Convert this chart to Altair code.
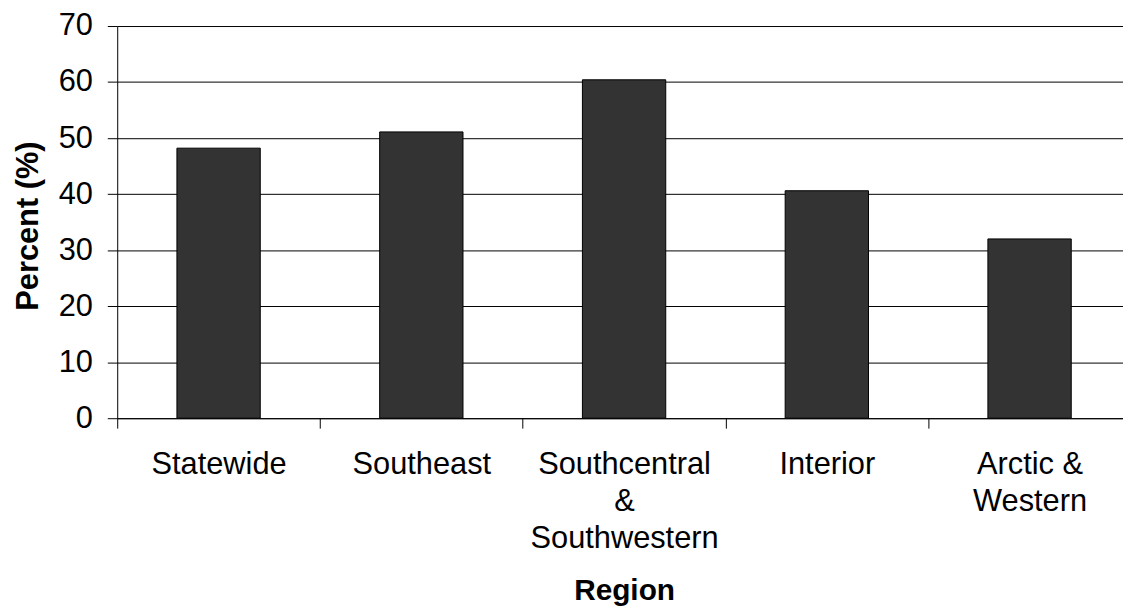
import altair as alt
import pandas as pd

regions = ["Statewide", "Southeast", "Southcentral\n&\nSouthwestern", "Interior", "Arctic &\nWestern"]
percents = [48.2, 51.1, 60.4, 40.6, 32.0]
y_ticks = [0, 10, 20, 30, 40, 50, 60, 70]

df = pd.DataFrame({"Region": regions, "Percent": percents})

FONT = "Liberation Sans"

chart = alt.Chart(df).mark_bar(
    color="#333333", stroke="#000000", strokeWidth=1,
    width=alt.RelativeBandSize(0.411),
).encode(
    x=alt.X(
        "Region:N",
        sort=None,
        scale=alt.Scale(range=[0, 1021], paddingInner=0, paddingOuter=0),
        axis=alt.Axis(
            title="Region",
            labelAngle=0,
            labelExpr="isValid(datum.value) ? split(datum.value, '\\n') : ''",
            labelLineHeight=37,
            labelFontSize=31,
            labelFont=FONT,
            labelColor="#000000",
            labelPadding=22,
            labelLimit=0,
            labelOverlap=False,
            tickBand="extent",
            tickSize=10,
            tickColor="#000000",
            domainColor="#000000",
            grid=False,
            titleFont=FONT,
            titleFontSize=30,
            titleFontWeight="bold",
            titleColor="#000000",
            titleBaseline="alphabetic",
            titleX=510.5,
            titleY=183,
            titleAnchor="middle",
            titleAlign="center",
        ),
    ),
    y=alt.Y(
        "Percent:Q",
        scale=alt.Scale(domain=[0, 70], nice=False),
        axis=alt.Axis(
            title="Percent (%)",
            values=y_ticks,
            labelFontSize=31,
            labelFont=FONT,
            labelColor="#000000",
            labelPadding=15,
            tickSize=10,
            tickColor="#000000",
            domainColor="#000000",
            gridColor="#000000",
            gridOpacity=1,
            titleFont=FONT,
            titleFontSize=31,
            titleFontWeight="bold",
            titleColor="#000000",
            titleAngle=270,
            titleBaseline="alphabetic",
            titleAlign="center",
            titleX=-80,
            titleY=201,
        ),
    ),
).properties(
    width=1013,
    height=395,
    autosize=alt.AutoSizeParams(type="none"),
    padding={"left": 110, "top": 16, "right": 0, "bottom": 189},
    background="#ffffff",
).configure_view(strokeWidth=0)

chart.save("out.html", embed_options={"renderer": "svg", "actions": False})
